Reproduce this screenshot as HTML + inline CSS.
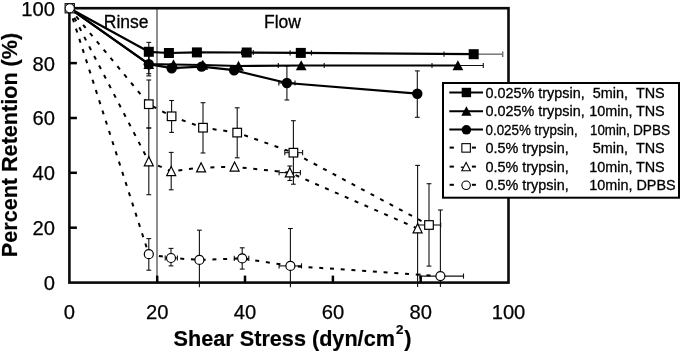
<!DOCTYPE html>
<html><head><meta charset="utf-8"><title>Percent Retention vs Shear Stress</title>
<style>
html,body{margin:0;padding:0;background:#fff;}
body{width:681px;height:351px;position:relative;overflow:hidden;font-family:"Liberation Sans",sans-serif;color:#000;}
</style></head><body>
<svg width="681" height="351" viewBox="0 0 681 351" style="position:absolute;left:0;top:0;will-change:transform">
<rect width="681" height="351" fill="#fff"/>
<line x1="157" y1="8.2" x2="157" y2="282.6" stroke="#444" stroke-width="1.2"/>
<g stroke="#111" stroke-width="1.1" fill="none">
<line x1="148.8" y1="42.4" x2="148.8" y2="61"/>
<line x1="146.4" y1="42.4" x2="151.20000000000002" y2="42.4"/>
<line x1="148.8" y1="54" x2="148.8" y2="73.7"/>
<line x1="146.4" y1="73.7" x2="151.20000000000002" y2="73.7"/>
<line x1="148.8" y1="54" x2="148.8" y2="75.9"/>
<line x1="146.4" y1="75.9" x2="151.20000000000002" y2="75.9"/>
<line x1="286.9" y1="66" x2="286.9" y2="100"/>
<line x1="284.5" y1="66" x2="289.29999999999995" y2="66"/>
<line x1="284.5" y1="100" x2="289.29999999999995" y2="100"/>
<line x1="417.3" y1="70.9" x2="417.3" y2="117.3"/>
<line x1="414.90000000000003" y1="70.9" x2="419.7" y2="70.9"/>
<line x1="414.90000000000003" y1="117.3" x2="419.7" y2="117.3"/>
<line x1="148.8" y1="80" x2="148.8" y2="128"/>
<line x1="146.4" y1="80" x2="151.20000000000002" y2="80"/>
<line x1="146.4" y1="128" x2="151.20000000000002" y2="128"/>
<line x1="171.6" y1="100.5" x2="171.6" y2="132.4"/>
<line x1="169.2" y1="100.5" x2="174.0" y2="100.5"/>
<line x1="169.2" y1="132.4" x2="174.0" y2="132.4"/>
<line x1="203" y1="102.7" x2="203" y2="153"/>
<line x1="200.6" y1="102.7" x2="205.4" y2="102.7"/>
<line x1="200.6" y1="153" x2="205.4" y2="153"/>
<line x1="237.2" y1="107.8" x2="237.2" y2="157.8"/>
<line x1="234.79999999999998" y1="107.8" x2="239.6" y2="107.8"/>
<line x1="234.79999999999998" y1="157.8" x2="239.6" y2="157.8"/>
<line x1="293.4" y1="120.7" x2="293.4" y2="184.2"/>
<line x1="291.0" y1="120.7" x2="295.79999999999995" y2="120.7"/>
<line x1="291.0" y1="184.2" x2="295.79999999999995" y2="184.2"/>
<line x1="429" y1="183.7" x2="429" y2="266.1"/>
<line x1="426.6" y1="183.7" x2="431.4" y2="183.7"/>
<line x1="426.6" y1="266.1" x2="431.4" y2="266.1"/>
<line x1="148.8" y1="128" x2="148.8" y2="194.7"/>
<line x1="146.4" y1="128" x2="151.20000000000002" y2="128"/>
<line x1="146.4" y1="194.7" x2="151.20000000000002" y2="194.7"/>
<line x1="171.2" y1="152.4" x2="171.2" y2="189.8"/>
<line x1="168.79999999999998" y1="152.4" x2="173.6" y2="152.4"/>
<line x1="168.79999999999998" y1="189.8" x2="173.6" y2="189.8"/>
<line x1="289.8" y1="166" x2="289.8" y2="180.5"/>
<line x1="287.40000000000003" y1="166" x2="292.2" y2="166"/>
<line x1="287.40000000000003" y1="180.5" x2="292.2" y2="180.5"/>
<line x1="417.6" y1="165.4" x2="417.6" y2="287"/>
<line x1="415.20000000000005" y1="165.4" x2="420.0" y2="165.4"/>
<line x1="148.8" y1="238.6" x2="148.8" y2="270.2"/>
<line x1="146.4" y1="238.6" x2="151.20000000000002" y2="238.6"/>
<line x1="146.4" y1="270.2" x2="151.20000000000002" y2="270.2"/>
<line x1="171" y1="248.4" x2="171" y2="265.9"/>
<line x1="168.6" y1="248.4" x2="173.4" y2="248.4"/>
<line x1="168.6" y1="265.9" x2="173.4" y2="265.9"/>
<line x1="199.4" y1="230.2" x2="199.4" y2="287.3"/>
<line x1="197.0" y1="230.2" x2="201.8" y2="230.2"/>
<line x1="242.2" y1="247.8" x2="242.2" y2="269.1"/>
<line x1="239.79999999999998" y1="247.8" x2="244.6" y2="247.8"/>
<line x1="239.79999999999998" y1="269.1" x2="244.6" y2="269.1"/>
<line x1="290.4" y1="228.5" x2="290.4" y2="287.3"/>
<line x1="288.0" y1="228.5" x2="292.79999999999995" y2="228.5"/>
<line x1="440.4" y1="210" x2="440.4" y2="287"/>
<line x1="438.0" y1="210" x2="442.79999999999995" y2="210"/>
<line x1="241.6" y1="52.5" x2="253.3" y2="52.5"/>
<line x1="241.6" y1="49.9" x2="241.6" y2="55.1"/>
<line x1="253.3" y1="49.9" x2="253.3" y2="55.1"/>
<line x1="290.1" y1="52.9" x2="311.4" y2="52.9"/>
<line x1="290.1" y1="50.3" x2="290.1" y2="55.5"/>
<line x1="311.4" y1="50.3" x2="311.4" y2="55.5"/>
<line x1="444" y1="54.2" x2="470" y2="54.2"/>
<line x1="444" y1="51.6" x2="444" y2="56.800000000000004"/>
<line x1="470" y1="51.6" x2="470" y2="56.800000000000004"/>
<line x1="278.3" y1="65.5" x2="324.2" y2="65.5"/>
<line x1="278.3" y1="62.9" x2="278.3" y2="68.1"/>
<line x1="324.2" y1="62.9" x2="324.2" y2="68.1"/>
<line x1="432" y1="65.5" x2="483.3" y2="65.5"/>
<line x1="432" y1="62.9" x2="432" y2="68.1"/>
<line x1="483.3" y1="62.9" x2="483.3" y2="68.1"/>
<line x1="278.8" y1="83" x2="295" y2="83"/>
<line x1="278.8" y1="80.4" x2="278.8" y2="85.6"/>
<line x1="295" y1="80.4" x2="295" y2="85.6"/>
<line x1="284.8" y1="152.7" x2="302.6" y2="152.7"/>
<line x1="284.8" y1="150.1" x2="284.8" y2="155.29999999999998"/>
<line x1="302.6" y1="150.1" x2="302.6" y2="155.29999999999998"/>
<line x1="417.6" y1="225" x2="440.7" y2="225"/>
<line x1="417.6" y1="222.4" x2="417.6" y2="227.6"/>
<line x1="440.7" y1="222.4" x2="440.7" y2="227.6"/>
<line x1="279.1" y1="172.6" x2="300.4" y2="172.6"/>
<line x1="279.1" y1="170.0" x2="279.1" y2="175.2"/>
<line x1="300.4" y1="170.0" x2="300.4" y2="175.2"/>
<line x1="165.2" y1="258" x2="177.4" y2="258"/>
<line x1="165.2" y1="255.4" x2="165.2" y2="260.6"/>
<line x1="177.4" y1="255.4" x2="177.4" y2="260.6"/>
<line x1="234.3" y1="258.4" x2="248.8" y2="258.4"/>
<line x1="234.3" y1="255.79999999999998" x2="234.3" y2="261.0"/>
<line x1="248.8" y1="255.79999999999998" x2="248.8" y2="261.0"/>
<line x1="279.1" y1="265.9" x2="301.5" y2="265.9"/>
<line x1="279.1" y1="263.29999999999995" x2="279.1" y2="268.5"/>
<line x1="301.5" y1="263.29999999999995" x2="301.5" y2="268.5"/>
<line x1="420" y1="276.1" x2="463.5" y2="276.1"/>
<line x1="420" y1="273.5" x2="420" y2="278.70000000000005"/>
<line x1="463.5" y1="273.5" x2="463.5" y2="278.70000000000005"/>
</g>
<g stroke="#777" stroke-width="1.5"><line x1="473" y1="54.2" x2="502.7" y2="54.2"/><line x1="502.7" y1="51.4" x2="502.7" y2="57"/></g>
<g stroke="#000" stroke-width="2.0" fill="none" stroke-dasharray="4 6.75">
<polyline points="69.4,8.2 148.8,104.2 171.6,116.3 203.0,127.7 237.2,132.6 293.4,152.7 429.0,225.0"/>
<polyline points="69.4,8.2 148.8,161.5 171.2,171.3 201.1,167.6 234.6,166.8 289.8,172.6 417.6,228.5"/>
<polyline points="69.4,8.2 148.8,254.2 171.0,258.0 199.4,259.9 242.2,258.4 290.4,265.9 440.4,276.1"/>
</g>
<g stroke="#000" stroke-width="2.2" fill="none" stroke-linejoin="round">
<polyline points="69.4,8.2 148.8,51.8 168.9,53.0 196.9,52.4 246.7,52.5 300.8,52.9 473.7,54.2"/>
<polyline points="69.4,8.2 148.8,64.2 173.5,64.5 202.8,65.0 238.5,66.0 301.2,65.5 457.9,65.5"/>
<polyline points="69.4,8.2 148.8,64.2 171.7,68.2 201.6,66.6 234.1,70.2 286.9,83.0 417.3,93.7"/>
</g>
<rect x="69.4" y="8.2" width="439.1" height="274.4" fill="none" stroke="#0a0a0a" stroke-width="2.6"/>
<g stroke="#000" stroke-width="2.5">
<line x1="69.4" y1="63.1" x2="76.9" y2="63.1"/>
<line x1="69.4" y1="118.0" x2="76.9" y2="118.0"/>
<line x1="69.4" y1="172.8" x2="76.9" y2="172.8"/>
<line x1="69.4" y1="227.7" x2="76.9" y2="227.7"/>
<line x1="157.2" y1="282.6" x2="157.2" y2="275.6"/>
<line x1="245.0" y1="282.6" x2="245.0" y2="275.6"/>
<line x1="332.9" y1="282.6" x2="332.9" y2="275.6"/>
<line x1="420.7" y1="282.6" x2="420.7" y2="275.6"/>
</g>
<rect x="143.8" y="46.8" width="10" height="10" fill="#000"/>
<rect x="163.9" y="48.0" width="10" height="10" fill="#000"/>
<rect x="191.9" y="47.4" width="10" height="10" fill="#000"/>
<rect x="241.7" y="47.5" width="10" height="10" fill="#000"/>
<rect x="295.8" y="47.9" width="10" height="10" fill="#000"/>
<rect x="468.7" y="49.2" width="10" height="10" fill="#000"/>
<polygon points="148.8,59.0 143.4,69.0 154.2,69.0" fill="#000"/>
<polygon points="173.5,59.3 168.1,69.3 178.9,69.3" fill="#000"/>
<polygon points="202.8,59.8 197.4,69.8 208.2,69.8" fill="#000"/>
<polygon points="238.5,60.8 233.1,70.8 243.9,70.8" fill="#000"/>
<polygon points="301.2,60.3 295.8,70.3 306.6,70.3" fill="#000"/>
<polygon points="457.9,60.3 452.5,70.3 463.3,70.3" fill="#000"/>
<circle cx="148.8" cy="64.2" r="5.2" fill="#000"/>
<circle cx="171.7" cy="68.2" r="5.2" fill="#000"/>
<circle cx="201.6" cy="66.6" r="5.2" fill="#000"/>
<circle cx="234.1" cy="70.2" r="5.2" fill="#000"/>
<circle cx="286.9" cy="83.0" r="5.2" fill="#000"/>
<circle cx="417.3" cy="93.7" r="5.2" fill="#000"/>
<rect x="144.5" y="99.9" width="8.6" height="8.6" fill="#fff" stroke="#000" stroke-width="1.2"/>
<rect x="167.3" y="112.0" width="8.6" height="8.6" fill="#fff" stroke="#000" stroke-width="1.2"/>
<rect x="198.7" y="123.4" width="8.6" height="8.6" fill="#fff" stroke="#000" stroke-width="1.2"/>
<rect x="232.9" y="128.3" width="8.6" height="8.6" fill="#fff" stroke="#000" stroke-width="1.2"/>
<rect x="289.1" y="148.4" width="8.6" height="8.6" fill="#fff" stroke="#000" stroke-width="1.2"/>
<rect x="424.7" y="220.7" width="8.6" height="8.6" fill="#fff" stroke="#000" stroke-width="1.2"/>
<polygon points="148.8,156.7 144.3,165.8 153.3,165.8" fill="#fff" stroke="#000" stroke-width="1.2"/>
<polygon points="171.2,166.5 166.7,175.6 175.7,175.6" fill="#fff" stroke="#000" stroke-width="1.2"/>
<polygon points="201.1,162.8 196.6,171.9 205.6,171.9" fill="#fff" stroke="#000" stroke-width="1.2"/>
<polygon points="234.6,162.0 230.1,171.1 239.1,171.1" fill="#fff" stroke="#000" stroke-width="1.2"/>
<polygon points="289.8,167.8 285.3,176.9 294.3,176.9" fill="#fff" stroke="#000" stroke-width="1.2"/>
<polygon points="417.6,223.7 413.1,232.8 422.1,232.8" fill="#fff" stroke="#000" stroke-width="1.2"/>
<circle cx="148.8" cy="254.2" r="4.5" fill="#fff" stroke="#000" stroke-width="1.2"/>
<circle cx="171.0" cy="258.0" r="4.5" fill="#fff" stroke="#000" stroke-width="1.2"/>
<circle cx="199.4" cy="259.9" r="4.5" fill="#fff" stroke="#000" stroke-width="1.2"/>
<circle cx="242.2" cy="258.4" r="4.5" fill="#fff" stroke="#000" stroke-width="1.2"/>
<circle cx="290.4" cy="265.9" r="4.5" fill="#fff" stroke="#000" stroke-width="1.2"/>
<circle cx="440.4" cy="276.1" r="4.5" fill="#fff" stroke="#000" stroke-width="1.2"/>
<rect x="65.05" y="3.55" width="9.4" height="9.4" fill="#8a8a8a" stroke="#111" stroke-width="1.0"/>
<circle cx="69.75" cy="8.25" r="4.55" fill="#fff" stroke="#000" stroke-width="1.0"/>
<rect x="443.0" y="83.0" width="236.0" height="114.7" fill="#fff" stroke="#000" stroke-width="2"/>
<line x1="449.3" y1="92.5" x2="483" y2="92.5" stroke="#000" stroke-width="2"/>
<line x1="449.3" y1="111.3" x2="483" y2="111.3" stroke="#000" stroke-width="2"/>
<line x1="449.3" y1="129.6" x2="483" y2="129.6" stroke="#000" stroke-width="2"/>
<rect x="461.7" y="87.8" width="9.4" height="9.4" fill="#000"/>
<polygon points="466.4,106.3 461.29999999999995,115.8 471.5,115.8" fill="#000"/>
<circle cx="466.4" cy="129.79999999999998" r="4.8" fill="#000"/>
<line x1="449.6" y1="147.6" x2="453.9" y2="147.6" stroke="#000" stroke-width="2"/>
<line x1="471.9" y1="147.6" x2="475.9" y2="147.6" stroke="#000" stroke-width="2"/>
<line x1="449.6" y1="166.6" x2="453.9" y2="166.6" stroke="#000" stroke-width="2"/>
<line x1="471.9" y1="166.6" x2="475.9" y2="166.6" stroke="#000" stroke-width="2"/>
<line x1="449.6" y1="184.8" x2="453.9" y2="184.8" stroke="#000" stroke-width="2"/>
<line x1="471.9" y1="184.8" x2="475.9" y2="184.8" stroke="#000" stroke-width="2"/>
<rect x="461.85" y="143.65" width="8.5" height="8.5" fill="#fff" stroke="#000" stroke-width="1.1"/>
<polygon points="466.1,162.4 461.8,170.79999999999998 470.40000000000003,170.79999999999998" fill="#fff" stroke="#000" stroke-width="1.1"/>
<line x1="460.8" y1="167.2" x2="463.6" y2="167.2" stroke="#000" stroke-width="1.3"/>
<circle cx="466.1" cy="185.3" r="4.25" fill="#fff" stroke="#000" stroke-width="1.1"/>
<text x="54.9" y="16" font-family="Liberation Sans, sans-serif" font-size="20.2" font-weight="normal" text-anchor="end" fill="#000" stroke="#000" stroke-width="0.25" >100</text>
<text x="54.9" y="71" font-family="Liberation Sans, sans-serif" font-size="20.2" font-weight="normal" text-anchor="end" fill="#000" stroke="#000" stroke-width="0.25" >80</text>
<text x="54.9" y="125" font-family="Liberation Sans, sans-serif" font-size="20.2" font-weight="normal" text-anchor="end" fill="#000" stroke="#000" stroke-width="0.25" >60</text>
<text x="54.9" y="180" font-family="Liberation Sans, sans-serif" font-size="20.2" font-weight="normal" text-anchor="end" fill="#000" stroke="#000" stroke-width="0.25" >40</text>
<text x="54.9" y="235" font-family="Liberation Sans, sans-serif" font-size="20.2" font-weight="normal" text-anchor="end" fill="#000" stroke="#000" stroke-width="0.25" >20</text>
<text x="54.9" y="290" font-family="Liberation Sans, sans-serif" font-size="20.2" font-weight="normal" text-anchor="end" fill="#000" stroke="#000" stroke-width="0.25" >0</text>
<text x="69.4" y="319" font-family="Liberation Sans, sans-serif" font-size="20.2" font-weight="normal" text-anchor="middle" fill="#000" stroke="#000" stroke-width="0.25" >0</text>
<text x="157.2" y="319" font-family="Liberation Sans, sans-serif" font-size="20.2" font-weight="normal" text-anchor="middle" fill="#000" stroke="#000" stroke-width="0.25" >20</text>
<text x="245.0" y="319" font-family="Liberation Sans, sans-serif" font-size="20.2" font-weight="normal" text-anchor="middle" fill="#000" stroke="#000" stroke-width="0.25" >40</text>
<text x="332.9" y="319" font-family="Liberation Sans, sans-serif" font-size="20.2" font-weight="normal" text-anchor="middle" fill="#000" stroke="#000" stroke-width="0.25" >60</text>
<text x="420.7" y="319" font-family="Liberation Sans, sans-serif" font-size="20.2" font-weight="normal" text-anchor="middle" fill="#000" stroke="#000" stroke-width="0.25" >80</text>
<text x="508.5" y="319" font-family="Liberation Sans, sans-serif" font-size="20.2" font-weight="normal" text-anchor="middle" fill="#000" stroke="#000" stroke-width="0.25" >100</text>
<text x="103.8" y="28" font-family="Liberation Sans, sans-serif" font-size="17.5" font-weight="normal" text-anchor="start" fill="#000" stroke="#000" stroke-width="0.3" >Rinse</text>
<text x="264.0" y="28" font-family="Liberation Sans, sans-serif" font-size="17.5" font-weight="normal" text-anchor="start" fill="#000" stroke="#000" stroke-width="0.3" >Flow</text>
<text x="173.6" y="346" font-family="Liberation Sans, sans-serif" font-size="21.65" font-weight="bold" text-anchor="start" fill="#000" stroke="#000" stroke-width="0.2" >Shear Stress (dyn/cm<tspan font-size="13.4" dy="-12.3" dx="1.0">2</tspan><tspan dy="12.3" dx="0.9">)</tspan></text>
<text x="0" y="0" font-family="Liberation Sans, sans-serif" font-size="21.6" font-weight="bold" text-anchor="middle" fill="#000" stroke="#000" stroke-width="0.2" transform="translate(16.5,145.0) rotate(-90)">Percent Retention (%)</text>
<text x="485.5" y="98" font-family="Liberation Sans, sans-serif" font-size="14.4" font-weight="normal" text-anchor="start" fill="#000" stroke="#000" stroke-width="0.3" >0.025% trypsin,</text>
<text x="592.8" y="98" font-family="Liberation Sans, sans-serif" font-size="14.4" font-weight="normal" text-anchor="start" fill="#000" stroke="#000" stroke-width="0.3" >5min,</text>
<text x="635.9" y="98" font-family="Liberation Sans, sans-serif" font-size="14.4" font-weight="normal" text-anchor="start" fill="#000" stroke="#000" stroke-width="0.3" >TNS</text>
<text x="485.5" y="116" font-family="Liberation Sans, sans-serif" font-size="14.4" font-weight="normal" text-anchor="start" fill="#000" stroke="#000" stroke-width="0.3" >0.025% trypsin,</text>
<text x="589.2" y="116" font-family="Liberation Sans, sans-serif" font-size="14.4" font-weight="normal" text-anchor="start" fill="#000" stroke="#000" stroke-width="0.3" >10min,</text>
<text x="635.9" y="116" font-family="Liberation Sans, sans-serif" font-size="14.4" font-weight="normal" text-anchor="start" fill="#000" stroke="#000" stroke-width="0.3" >TNS</text>
<text x="0" y="0" font-family="Liberation Sans, sans-serif" font-size="14.4" font-weight="normal" text-anchor="start" fill="#000" stroke="#000" stroke-width="0.3" transform="translate(485.5,135) scale(0.93,1)">0.025% trypsin,</text>
<text x="0" y="0" font-family="Liberation Sans, sans-serif" font-size="14.4" font-weight="normal" text-anchor="start" fill="#000" stroke="#000" stroke-width="0.3" transform="translate(590.0,135) scale(0.925,1)">10min,</text>
<text x="0" y="0" font-family="Liberation Sans, sans-serif" font-size="14.4" font-weight="normal" text-anchor="start" fill="#000" stroke="#000" stroke-width="0.3" transform="translate(633.0,135) scale(0.95,1)">DPBS</text>
<text x="485.5" y="153" font-family="Liberation Sans, sans-serif" font-size="14.4" font-weight="normal" text-anchor="start" fill="#000" stroke="#000" stroke-width="0.3" >0.5% trypsin,</text>
<text x="592.8" y="153" font-family="Liberation Sans, sans-serif" font-size="14.4" font-weight="normal" text-anchor="start" fill="#000" stroke="#000" stroke-width="0.3" >5min,</text>
<text x="635.9" y="153" font-family="Liberation Sans, sans-serif" font-size="14.4" font-weight="normal" text-anchor="start" fill="#000" stroke="#000" stroke-width="0.3" >TNS</text>
<text x="485.5" y="172" font-family="Liberation Sans, sans-serif" font-size="14.4" font-weight="normal" text-anchor="start" fill="#000" stroke="#000" stroke-width="0.3" >0.5% trypsin,</text>
<text x="589.2" y="172" font-family="Liberation Sans, sans-serif" font-size="14.4" font-weight="normal" text-anchor="start" fill="#000" stroke="#000" stroke-width="0.3" >10min,</text>
<text x="635.9" y="172" font-family="Liberation Sans, sans-serif" font-size="14.4" font-weight="normal" text-anchor="start" fill="#000" stroke="#000" stroke-width="0.3" >TNS</text>
<text x="485.5" y="190" font-family="Liberation Sans, sans-serif" font-size="14.4" font-weight="normal" text-anchor="start" fill="#000" stroke="#000" stroke-width="0.3" >0.5% trypsin,</text>
<text x="589.2" y="190" font-family="Liberation Sans, sans-serif" font-size="14.4" font-weight="normal" text-anchor="start" fill="#000" stroke="#000" stroke-width="0.3" >10min,</text>
<text x="636.4" y="190" font-family="Liberation Sans, sans-serif" font-size="14.4" font-weight="normal" text-anchor="start" fill="#000" stroke="#000" stroke-width="0.3" >DPBS</text>
</svg>
</body></html>
